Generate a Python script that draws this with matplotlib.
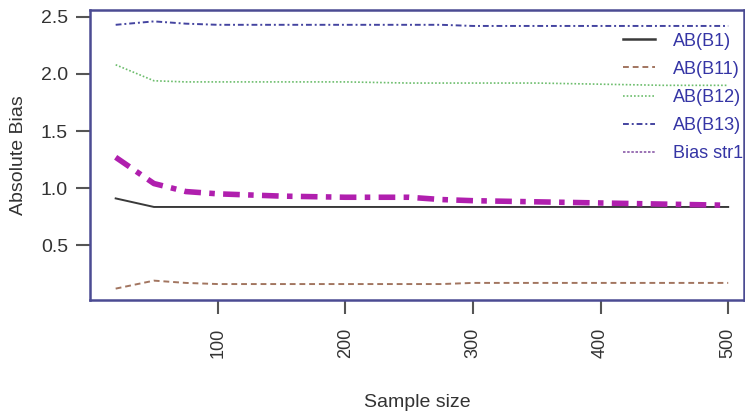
import matplotlib
matplotlib.use("Agg")
import matplotlib.pyplot as plt
from matplotlib.lines import Line2D

plt.rcParams['font.family'] = ['Liberation Sans Narrow', 'Liberation Sans', 'DejaVu Sans']

sample_size = [20, 50, 75, 100, 150, 200, 250, 275, 300, 350, 400, 450, 500]
ab_b1 = [0.91, 0.835, 0.835, 0.835, 0.835, 0.835, 0.835, 0.835, 0.835, 0.835, 0.835, 0.835, 0.835]
ab_b11 = [0.12, 0.19, 0.17, 0.16, 0.16, 0.16, 0.16, 0.16, 0.17, 0.17, 0.17, 0.17, 0.17]
ab_b12 = [2.08, 1.94, 1.93, 1.93, 1.93, 1.93, 1.92, 1.92, 1.92, 1.92, 1.91, 1.90, 1.90]
ab_b13 = [2.43, 2.46, 2.44, 2.43, 2.43, 2.43, 2.43, 2.43, 2.42, 2.42, 2.42, 2.42, 2.42]
bias_str1 = [1.27, 1.04, 0.97, 0.95, 0.93, 0.92, 0.92, 0.90, 0.89, 0.88, 0.87, 0.86, 0.85]

labels = ['AB(B1)', 'AB(B11)', 'AB(B12)', 'AB(B13)', 'Bias str1']
xticks = [100, 200, 300, 400, 500]
yticks = [0.5, 1.0, 1.5, 2.0, 2.5]

fig = plt.figure(figsize=(7.45, 4.15), dpi=100)
ax = fig.add_axes([0.121, 0.277, 0.877, 0.699])

ax.plot(sample_size, ab_b1, color='#3a3a3a', lw=1.4, ls='-')
ax.plot(sample_size, ab_b11, color='#a27560', lw=1.4, ls=(0, (3, 2)))
ax.plot(sample_size, ab_b12, color='#6cbd6c', lw=1.2, ls=(0, (1, 1.2)))
ax.plot(sample_size, ab_b13, color='#4444a0', lw=1.4, ls=(0, (3, 1.5, 1, 1.5)))
ax.plot(sample_size, bias_str1, color='#b01fae', lw=4, ls=(0, (3, 1.5, 1, 1.5)))

ax.set_xlim(0, 512)
ax.set_ylim(0.02, 2.56)
ax.set_xticks(xticks)
ax.set_xticklabels([str(t) for t in xticks], rotation=90, fontsize=13, color='#333333')
ax.set_yticks(yticks)
ax.set_yticklabels([f'{t:.1f}' for t in yticks], fontsize=14, color='#333333')
ax.tick_params(axis='both', direction='out', length=10, width=1.5, color='#555555')
ax.tick_params(axis='x', pad=10)
ax.tick_params(axis='y', pad=6)
for s in ax.spines.values():
    s.set_color('#4b4b92')
    s.set_linewidth(1.8)

ax.set_xlabel('Sample size', fontsize=14, color='#333333', labelpad=26)
ax.set_ylabel('Absolute Bias', fontsize=14, color='#333333', labelpad=10)

handles = [
    Line2D([], [], color='#3a3a3a', lw=1.8, ls='-'),
    Line2D([], [], color='#a27560', lw=1.4, ls=(0, (3, 2))),
    Line2D([], [], color='#6cbd6c', lw=1.2, ls=(0, (1, 1.2))),
    Line2D([], [], color='#4444a0', lw=1.4, ls=(0, (3, 1.5, 1, 1.5))),
    Line2D([], [], color='#8a5aa8', lw=1.2, ls=(0, (1.5, 1))),
]
leg = ax.legend(handles, labels, loc='upper right', bbox_to_anchor=(1.0, 0.922),
                frameon=False, fontsize=13, handlelength=1.8, labelspacing=0.62,
                handletextpad=1.0, borderaxespad=0, borderpad=0)
for t in leg.get_texts():
    t.set_color('#3535a5')

fig.savefig('out.png', dpi=100)
